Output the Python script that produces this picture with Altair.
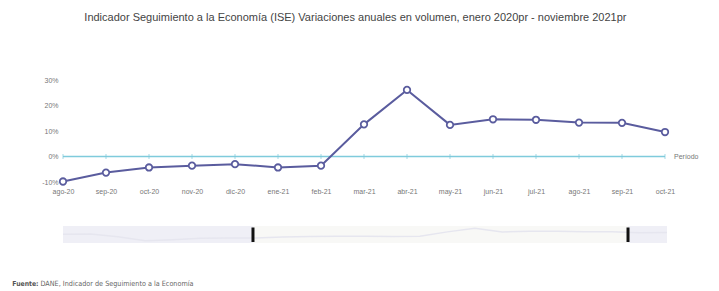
import altair as alt
import pandas as pd

# ---------------- data ----------------
title_text = "Indicador Seguimiento a la Economía (ISE) Variaciones anuales en volumen, enero 2020pr - noviembre 2021pr"
periods = ["ago-20", "sep-20", "oct-20", "nov-20", "dic-20", "ene-21", "feb-21", "mar-21",
           "abr-21", "may-21", "jun-21", "jul-21", "ago-21", "sep-21", "oct-21"]
values = [-9.8, -6.3, -4.3, -3.6, -3.0, -4.3, -3.6, 12.6, 26.1, 12.4, 14.6, 14.4, 13.3, 13.2, 9.6]
y_ticks = [-10, 0, 10, 20, 30]
x_axis_label = "Período"

# navigator (ene-20 .. nov-21), faint overview series
nav_index = list(range(23))
nav_values = [3.5, 4.5, -5.0, -20.0, -16.0, -11.0, -9.5,
              -9.8, -6.3, -4.3, -3.6, -3.0, -4.3, -3.6, 12.6, 26.1, 12.4, 14.6, 14.4, 13.3, 13.2, 9.6,
              10.0]
handle_pos = [6.92, 20.58]

source_label = "Fuente:"
source_text = "DANE, Indicador de Seguimiento a la Economía"

# ---------------- styles ----------------
LINE = "#5a5c9e"
ZERO = "#7fcbdc"
TXT = "#777777"
FONT = "Liberation Sans"
NARROW = "DejaVu Sans Condensed, Liberation Sans Narrow, Liberation Sans"
W = 602
H = 102

df = pd.DataFrame({"periodo": periods, "valor": values, "z": [0] * len(periods)})
zero_df = pd.DataFrame({"periodo": [periods[0]], "b": [periods[-1]], "valor": [0]})
lab_df = pd.DataFrame({"periodo": [periods[-1]], "valor": [0], "t": [x_axis_label]})

xs = alt.Scale(type="point", domain=periods, padding=0)
ys = alt.Scale(domain=[y_ticks[0], y_ticks[-1]], nice=False, zero=False)

x_axis = alt.Axis(title=None, domain=False, ticks=False, grid=False, labelAngle=0,
                  labelFontSize=7, labelColor=TXT, labelFont=FONT, labelPadding=5,
                  labelOverlap=False)
y_axis = alt.Axis(title=None, domain=False, ticks=False, grid=False, values=y_ticks,
                  labelExpr="datum.value + '%'", labelFontSize=7, labelColor=TXT,
                  labelFont=FONT, labelPadding=5, labelOverlap=False, tickCount=5)

X = alt.X("periodo:O", scale=xs, axis=x_axis, title=None)
Y = alt.Y("valor:Q", scale=ys, axis=y_axis, title=None)

zero_rule = alt.Chart(zero_df).mark_rule(color=ZERO, strokeWidth=1.3).encode(
    x=X, x2="b", y=Y
)
zero_ticks = alt.Chart(df).mark_tick(color=ZERO, orient="vertical", size=5, thickness=1).encode(
    x=X, y=alt.Y("z:Q", scale=ys, axis=y_axis, title=None)
)
line = alt.Chart(df).mark_line(color=LINE, strokeWidth=2).encode(x=X, y=Y)
points = alt.Chart(df).mark_point(filled=True, fill="white", stroke=LINE, strokeWidth=1.8,
                                  size=42, opacity=1).encode(x=X, y=Y)
period_label = alt.Chart(lab_df).mark_text(align="left", baseline="middle", dx=9, fontSize=7,
                                           color=TXT, font=FONT).encode(x=X, y=Y, text="t")

main = alt.layer(zero_rule, zero_ticks, line, points, period_label).properties(width=W, height=H)

# ---------------- navigator ----------------
NW = 604
NH = 17
nav_df = pd.DataFrame({"i": nav_index, "v": nav_values})
nxs = alt.Scale(domain=[nav_index[0], nav_index[-1]], nice=False, zero=False)
nys = alt.Scale(domain=[-28, 34], nice=False, zero=False)
bg_df = pd.DataFrame({"a": [nav_index[0]], "b": [nav_index[-1]]})
sel_df = pd.DataFrame({"a": [handle_pos[0]], "b": [handle_pos[1]]})
hd_df = pd.DataFrame({"h": handle_pos})

nav_bg = alt.Chart(bg_df).mark_rect(color="#efeff6").encode(
    x=alt.X("a:Q", scale=nxs, axis=None), x2="b", y=alt.value(0), y2=alt.value(NH)
)
nav_sel = alt.Chart(sel_df).mark_rect(color="#f8f8f6").encode(
    x=alt.X("a:Q", scale=nxs, axis=None), x2="b", y=alt.value(0), y2=alt.value(NH)
)
nav_line = alt.Chart(nav_df).mark_line(color="#e6e6ef", strokeWidth=1.5).encode(
    x=alt.X("i:Q", scale=nxs, axis=None), y=alt.Y("v:Q", scale=nys, axis=None)
)
nav_handles = alt.Chart(hd_df).mark_rule(color="#111111", strokeWidth=3).encode(
    x=alt.X("h:Q", scale=nxs, axis=None), y=alt.value(1.5), y2=alt.value(NH - 1)
)
src1 = alt.Chart(pd.DataFrame({"t": [source_label]})).mark_text(
    align="left", baseline="middle", fontSize=6.8, fontWeight="bold", color="#555555",
    font=NARROW
).encode(text="t", x=alt.value(-50.7), y=alt.value(57.5))
src2 = alt.Chart(pd.DataFrame({"t": [source_text]})).mark_text(
    align="left", baseline="middle", fontSize=7.2, color="#666666",
    font=NARROW
).encode(text="t", x=alt.value(-22.5), y=alt.value(57.5))

nav = alt.layer(nav_bg, nav_sel, nav_line, nav_handles, src1, src2).properties(width=NW, height=NH)

chart = alt.vconcat(main, nav, spacing=31).properties(
    title=alt.TitleParams(title_text, fontSize=11, fontWeight="normal", color="#444444",
                          font=FONT, anchor="middle", offset=53),
    padding={"left": 4, "top": 4, "right": 5, "bottom": 5},
    background="white",
).configure_view(stroke=None)

chart.save("out.html", embed_options={"renderer": "svg", "actions": False})
